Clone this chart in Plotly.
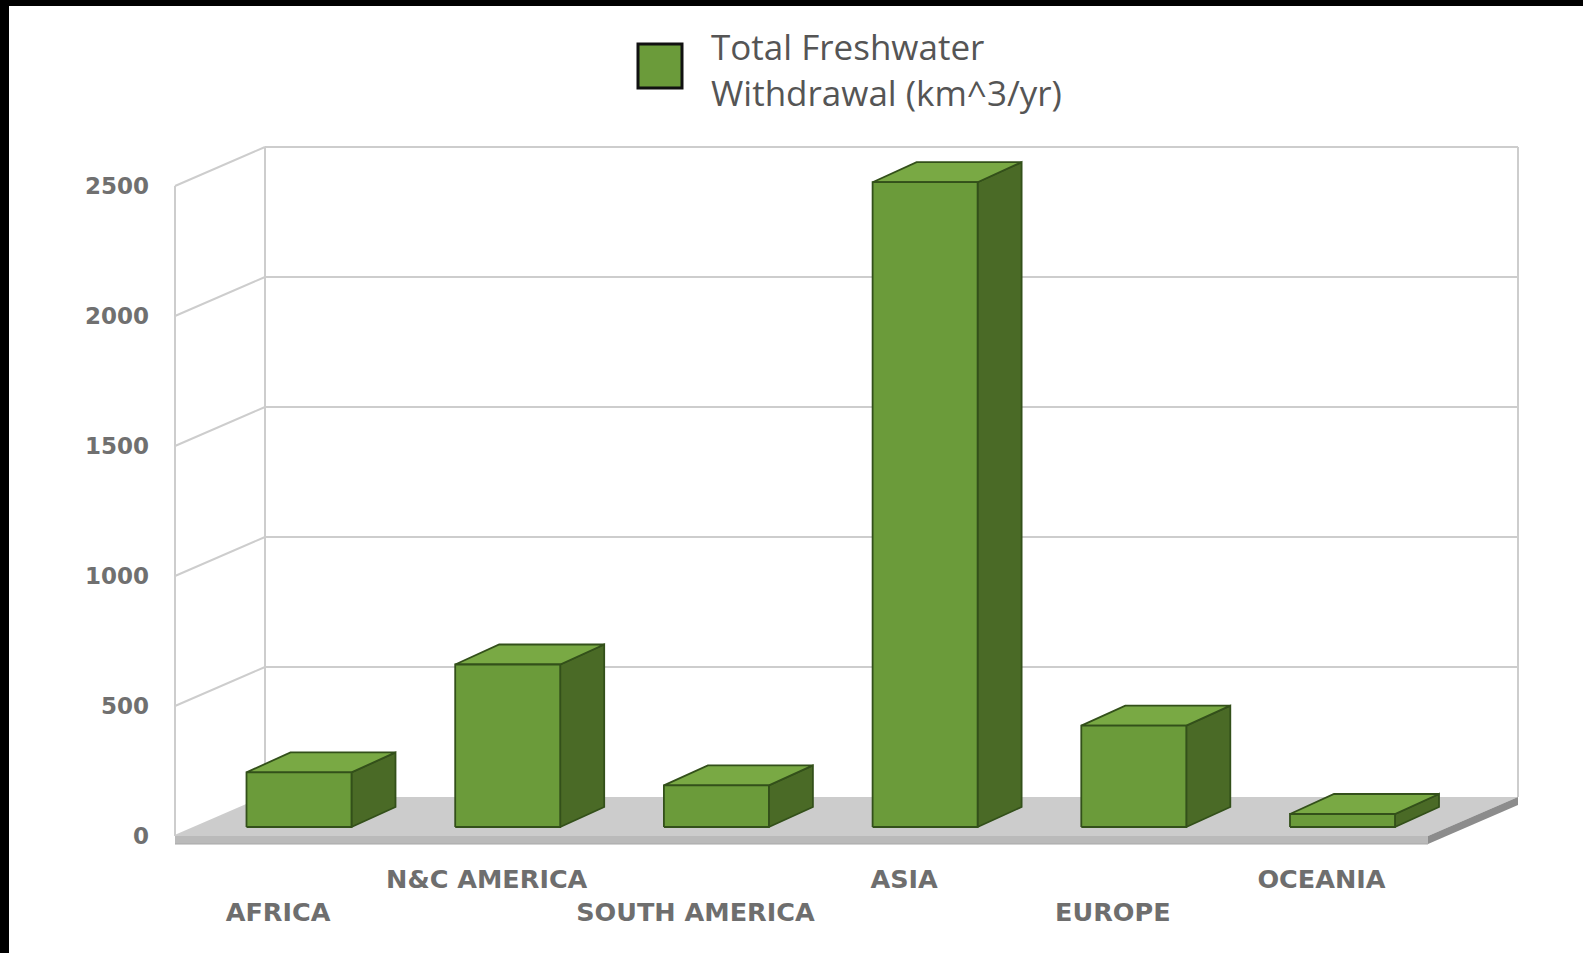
import plotly.graph_objects as go

# ---------------- data ----------------
categories = ["AFRICA", "N&C AMERICA", "SOUTH AMERICA", "ASIA", "EUROPE", "OCEANIA"]
withdrawal = [210, 625, 160, 2480, 390, 50]
tick_values = [0, 500, 1000, 1500, 2000, 2500]
tick_labels = ["0", "500", "1000", "1500", "2000", "2500"]
legend_lines = ["Total Freshwater", "Withdrawal (km^3/yr)"]

# ---------------- geometry (pixel -> data scale) ----------------
W, H = 1583, 953
ML, MT = 9, 6
PX0, PXU = 278.0, 208.7   # pixel of category 0 (front plane), pixels per category
PY0, PYU = 836.0, 0.26    # pixel of value 0 (front plane), pixels per unit

XR = [(ML - PX0) / PXU, (W - PX0) / PXU]
YR = [(PY0 - H) / PYU, (PY0 - MT) / PYU]


def fx(px):
    return (px - ML) / (W - ML)


def fy(py):
    return (H - py) / (H - MT)


XL = (175 - PX0) / PXU          # floor front-left
XRF = (1428 - PX0) / PXU        # floor front-right
DX = 90 / PXU                   # depth offset x
DY = 39 / PYU                   # depth offset in value units
YTOP = tick_values[-1]
SLAB = 8 / PYU

# bar geometry
BFX = 21 / PXU
BFY = 9 / PYU
BW = 105 / PXU
BBX = 44 / PXU
BBY = 20 / PYU

grid_col = "#cdcdcd"
shapes = []


def line(x0, y0, x1, y1, col=grid_col, w=2):
    shapes.append(dict(type="line", xref="x", yref="y", x0=x0, y0=y0, x1=x1, y1=y1,
                       layer="below", line=dict(color=col, width=w)))


def poly(pts, fill, col=None, w=0):
    path = "M " + " L ".join(f"{x},{y}" for x, y in pts) + " Z"
    shapes.append(dict(type="path", xref="x", yref="y", path=path, layer="below",
                       fillcolor=fill, line=dict(color=col or fill, width=w)))


# back wall gridlines
for v in tick_values[1:]:
    line(XL + DX, v + DY, XRF + DX, v + DY)
# back wall verticals
line(XL + DX, DY, XL + DX, YTOP + DY)
line(XRF + DX, DY, XRF + DX, YTOP + DY)
# left side wall
line(XL, 0, XL, YTOP)
for v in tick_values:
    line(XL, v, XL + DX, v + DY)

# floor
poly([(XL, 0), (XRF, 0), (XRF + DX, DY), (XL + DX, DY)], "#cccccc")
poly([(XL, 0), (XRF, 0), (XRF, -SLAB), (XL, -SLAB)], "#bababa")
poly([(XRF, 0), (XRF + DX, DY), (XRF + DX, DY - SLAB), (XRF, -SLAB)], "#8c8c8c")
line(XL, -SLAB, XRF, -SLAB, "#a8a8a8", 1)

# legend square
shapes.append(dict(type="rect", xref="paper", yref="paper", x0=fx(638), x1=fx(682),
                   y0=fy(88), y1=fy(44), fillcolor="#6b9b3a",
                   line=dict(color="#111111", width=3)))

# ---------------- bars ----------------
front_x, front_y, top_x, top_y, side_x, side_y = [], [], [], [], [], []
for i, v in enumerate(withdrawal):
    xl = i + BFX - BW / 2
    xr = i + BFX + BW / 2
    yb = BFY
    yt = v + BFY
    front_x += [xl, xr, xr, xl, xl, None]
    front_y += [yb, yb, yt, yt, yb, None]
    top_x += [xl, xr, xr + BBX, xl + BBX, xl, None]
    top_y += [yt, yt, yt + BBY, yt + BBY, yt, None]
    side_x += [xr, xr + BBX, xr + BBX, xr, xr, None]
    side_y += [yb, yb + BBY, yt + BBY, yt, yb, None]

edge = "#33501a"
traces = [
    go.Scatter(x=side_x, y=side_y, fill="toself", fillcolor="#4a6a26", mode="lines",
               line=dict(color=edge, width=1.8), hoverinfo="skip", showlegend=False),
    go.Scatter(x=top_x, y=top_y, fill="toself", fillcolor="#79a944", mode="lines",
               line=dict(color=edge, width=1.8), hoverinfo="skip", showlegend=False),
    go.Scatter(x=front_x, y=front_y, fill="toself", fillcolor="#6b9b3a", mode="lines",
               line=dict(color=edge, width=1.8), hoverinfo="skip", showlegend=False),
    go.Scatter(x=[], y=[], xaxis="x2", yaxis="y", showlegend=False),
]

fig = go.Figure(data=traces)

label_font = dict(family="DejaVu Sans", size=25.5, color="#6e6e6e", weight="bold")
top_idx = [i for i in range(len(categories)) if i % 2 == 1]
bot_idx = [i for i in range(len(categories)) if i % 2 == 0]

fig.update_layout(
    width=W, height=H,
    margin=dict(l=ML, r=0, t=MT, b=0, pad=0),
    paper_bgcolor="black",
    plot_bgcolor="white",
    showlegend=False,
    shapes=shapes,
    xaxis=dict(range=XR, anchor="free", position=fy(861), showgrid=False, zeroline=False,
               showline=False, ticks="", tickvals=top_idx,
               ticktext=[categories[i] for i in top_idx], tickfont=label_font,
               fixedrange=True),
    xaxis2=dict(range=XR, overlaying="x", anchor="free", position=fy(894), side="bottom",
                showgrid=False, zeroline=False, showline=False, ticks="",
                tickvals=bot_idx, ticktext=[categories[i] for i in bot_idx],
                tickfont=label_font, fixedrange=True),
    yaxis=dict(range=YR, anchor="free", position=fx(149), showgrid=False, zeroline=False,
               showline=False, ticks="", tickvals=tick_values, ticktext=tick_labels,
               tickfont=dict(family="DejaVu Sans", size=23, color="#707070", weight="bold"),
               fixedrange=True),
    annotations=[
        dict(text=legend_lines[0], xref="paper", yref="paper", x=fx(709), y=fy(46),
             xanchor="left", yanchor="middle", showarrow=False,
             font=dict(family="Open Sans", size=35, color="#555555")),
        dict(text=legend_lines[1], xref="paper", yref="paper", x=fx(709), y=fy(93),
             xanchor="left", yanchor="middle", showarrow=False,
             font=dict(family="Open Sans", size=35, color="#555555")),
    ],
)

fig.write_html("out.html")
